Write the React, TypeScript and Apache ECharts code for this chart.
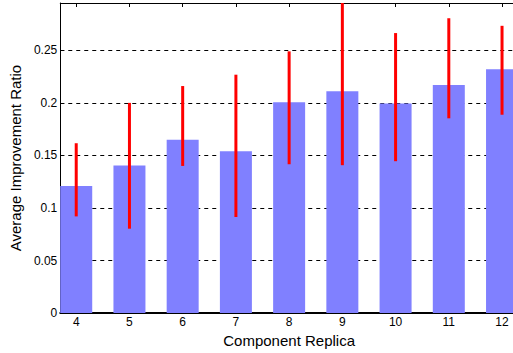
import React, { useEffect, useRef } from "react";
import * as echarts from "echarts";

// Replica counts on the x axis
const replicas = [4, 5, 6, 7, 8, 9, 10, 11, 12];
// Mean improvement ratio for each replica count
const meanRatio = [0.121, 0.1405, 0.165, 0.154, 0.2005, 0.211, 0.1995, 0.217, 0.232];
// Lower and upper ends of the spread around each mean
const lowRatio = [0.092, 0.0803, 0.14, 0.0914, 0.1416, 0.1407, 0.1445, 0.1853, 0.1887];
const highRatio = [0.1616, 0.2, 0.216, 0.2268, 0.249, 0.305, 0.2664, 0.2805, 0.2733];
// Labelled ticks on the y axis
const yTicks = [0, 0.05, 0.1, 0.15, 0.2, 0.25];

const FONT = "'Liberation Sans', Arial, Helvetica, sans-serif";

export default function App() {
  const ref = useRef<HTMLDivElement>(null);

  useEffect(() => {
    document.body.style.margin = "0";
    document.body.style.overflow = "hidden";
    const chart = echarts.init(ref.current!, null, { renderer: "svg" });

    const barData = replicas.map((r, i) => [r, meanRatio[i]]);
    const errData = replicas.map((r, i) => [r, lowRatio[i], highRatio[i]]);

    chart.setOption({
      animation: false,
      backgroundColor: "#ffffff",
      textStyle: { fontFamily: FONT },
      grid: { left: 59, top: 3, width: 459, height: 312 },
      xAxis: [
        {
          type: "value",
          position: "bottom",
          min: 3.7,
          max: 12.3,
          name: "Component Replica",
          nameLocation: "middle",
          nameGap: 15,
          nameTextStyle: { fontFamily: FONT, fontSize: 15, color: "#000" },
          axisLine: { show: true, lineStyle: { color: "#000", width: 2 } },
          axisTick: { show: true, inside: true, length: 4, customValues: replicas, lineStyle: { color: "#000" } },
          axisLabel: { customValues: replicas, margin: 3, fontFamily: FONT, fontSize: 12, color: "#000" },
          splitLine: { show: false },
        },
        {
          type: "value",
          position: "top",
          min: 3.7,
          max: 12.3,
          axisLine: { show: true, lineStyle: { color: "#000", width: 1 } },
          axisTick: { show: true, inside: true, length: 4, customValues: replicas, lineStyle: { color: "#000" } },
          axisLabel: { show: false },
          splitLine: { show: false },
        },
      ],
      yAxis: {
        type: "value",
        min: 0,
        max: 0.295,
        interval: 0.05,
        name: "Average Improvement Ratio",
        nameLocation: "middle",
        nameGap: 29,
        nameTextStyle: { fontFamily: FONT, fontSize: 15, color: "#000" },
        axisLine: { show: true, lineStyle: { color: "#000", width: 1 } },
        axisTick: { show: true, inside: true, length: 4, lineStyle: { color: "#000" } },
        axisLabel: {
          customValues: yTicks,
          margin: 3,
          fontFamily: FONT,
          fontSize: 12,
          color: "#000",
        },
        splitLine: { show: true, lineStyle: { color: "#000", type: [4, 4], width: 1 } },
      },
      series: [
        {
          type: "bar",
          xAxisIndex: 0,
          data: barData,
          barWidth: 32,
          itemStyle: { color: "#8080ff" },
          z: 2,
        },
        {
          type: "custom",
          xAxisIndex: 0,
          clip: true,
          z: 3,
          data: errData,
          encode: { x: 0, y: [1, 2] },
          renderItem: (params: any, api: any) => {
            const x = api.value(0);
            const lo = api.coord([x, api.value(1)]);
            const hi = api.coord([x, api.value(2)]);
            return {
              type: "line",
              shape: { x1: lo[0], y1: lo[1], x2: hi[0], y2: hi[1] },
              style: { stroke: "#ff0000", lineWidth: 3 },
            };
          },
        },
      ],
    });

    return () => chart.dispose();
  }, []);

  return (
    <div style={{ position: "fixed", left: 0, top: 0, width: 513, height: 353, overflow: "hidden" }}>
      <div ref={ref} style={{ width: 530, height: 353 }} />
    </div>
  );
}
